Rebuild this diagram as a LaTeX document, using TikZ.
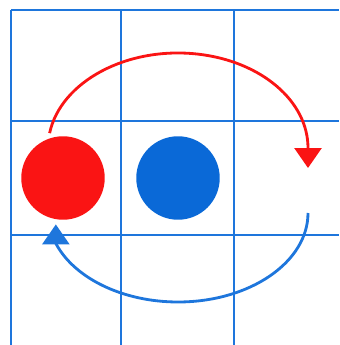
\documentclass[tikz,border=0pt]{standalone}
\usepackage{xcolor}
\usepackage{tikz}
\usetikzlibrary{arrows.meta,calc}

\definecolor{gridblue}{RGB}{30,118,220}
\definecolor{ballblue}{RGB}{10,105,215}
\definecolor{ballred}{RGB}{250,20,20}

\begin{document}
\begin{tikzpicture}[x=0.02cm,y=0.02cm,
  gridline/.style={gridblue,line width=1.6pt},
  ball/.style={circle,inner sep=0pt,minimum size=1.67cm},
  orbit/.style={line width=1.6pt,-{Triangle[width=0.54cm,length=0.4cm]}}]
  \useasboundingbox (0,0) rectangle (339,345);
  \foreach \x in {11,121,234} \draw[gridline] (\x,0)--(\x,335);
  \foreach \y in {335,224,110} \draw[gridline] (11,\y)--(339,\y);
  \node[ball,fill=ballred] (redball) at (63,167) {};
  \node[ball,fill=ballblue] (blueball) at (178,167) {};
  \coordinate (redstart) at ($(178,197)+(171:130 and 95)$);
  \coordinate (bluestart) at ($(178,132)+(0:130 and 89)$);
  \draw[orbit,ballred] (redstart) arc[start angle=171,end angle=0,x radius=130,y radius=95] -- ++(0,-20);
  \draw[orbit,gridblue] (bluestart) arc[start angle=0,end angle=-160,x radius=130,y radius=89] -- ++(0,19);
\end{tikzpicture}
\end{document}
